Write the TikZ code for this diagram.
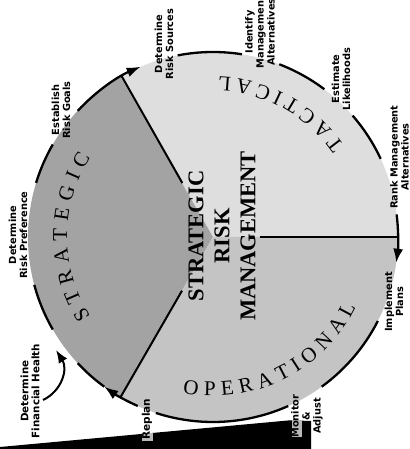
\documentclass[tikz,border=0pt]{standalone}
\usepackage{fontspec}
\setmainfont{Liberation Serif}
\newfontfamily\labelfont{DejaVu Sans}
\usetikzlibrary{decorations.text,arrows.meta}
\definecolor{tact}{gray}{0.87}
\definecolor{strat}{gray}{0.64}
\definecolor{oper}{gray}{0.77}
\newcommand\arcfont{\fontsize{21}{21}\selectfont}
\begin{document}
\begin{tikzpicture}[x=1pt,y=1pt,
  lbl/.style={font=\labelfont\bfseries\fontsize{9.8}{11}\selectfont, rotate=90, align=center, inner sep=0pt},
  rim/.style={line width=2.3pt},
  sepline/.style={line width=2pt},
  tipped/.style={-{Latex[length=14pt,width=10pt]}},
  arctext/.style={decorate, decoration={text along path, text align=fit to path, text={|\arcfont|#1}}}
]
\useasboundingbox (0,0) rectangle (409,449);
\coordinate (C) at (213,212);
% sectors
\fill[tact] (C) -- ([shift={(C)}]0:185) arc[start angle=0,end angle=120,radius=185] -- cycle;
\fill[strat] (C) -- ([shift={(C)}]120:185) arc[start angle=120,end angle=240,radius=185] -- cycle;
\fill[oper] (C) -- ([shift={(C)}]240:185) arc[start angle=240,end angle=360,radius=185] -- cycle;
% black scan band
\fill[black] (0,0) -- (0,2) -- (290,28.7) -- (311,28) -- (311,0) -- cycle;
\fill[gray!55] (291.5,12) rectangle (302,28.5);
\fill[gray!55] (141.5,8) rectangle (152.5,16);
% separators
\draw[sepline] ([shift={(C)}]119.6:185) -- ([shift={(C)}]119.6:62);
\draw[sepline] ([shift={(C)}]240:185) -- ([shift={(C)}]240:62);
\draw[sepline] ([shift={(C)}]0:47) -- ([shift={(C)}]0:185);
% rim arcs
\draw[rim] ([shift={(C)}]163:185) arc[start angle=163,end angle=150,radius=185];
\draw[rim,tipped] ([shift={(C)}]137:185) arc[start angle=137,end angle=113,radius=185];
\draw[rim] ([shift={(C)}]101:185) arc[start angle=101,end angle=81,radius=185];
\draw[rim] ([shift={(C)}]69:185) arc[start angle=69,end angle=53,radius=185];
\draw[rim] ([shift={(C)}]41:185) arc[start angle=41,end angle=25,radius=185];
\draw[rim,tipped] ([shift={(C)}]7:185) arc[start angle=7,end angle=-8,radius=185];
\draw[rim] ([shift={(C)}]-27:185) arc[start angle=-27,end angle=-54,radius=185];
\draw[rim] ([shift={(C)}]-66:185) arc[start angle=-66,end angle=-108,radius=185];
\draw[rim,tipped] ([shift={(C)}]-114:185) arc[start angle=-114,end angle=-126,radius=185];
\draw[rim] ([shift={(C)}]-126:185) arc[start angle=-126,end angle=-137,radius=185];
\draw[rim] ([shift={(C)}]-150:185) arc[start angle=-150,end angle=-165,radius=185];
% centre title
\node[rotate=90, align=center, inner sep=0pt, font=\bfseries\fontsize{22.5}{26}\selectfont] (srm) at (222,213) {STRATEGIC\\RISK\\MANAGEMENT};
% arc texts
\path[arctext={STRATEGIC}] ([shift={(C)}]213:146) arc[start angle=213,end angle=147,radius=146];
\path[arctext={TACTICAL}] ([shift={(C)}]35:160) arc[start angle=35,end angle=88,radius=160];
\path[arctext={OPERATIONAL}] ([shift={(C)}]259:159) arc[start angle=259,end angle=334,radius=159];
% labels
\node[lbl] (srcs) at (164,405) {Determine\\Risk Sources};
\node[lbl] (idalt) at (260,417) {Identify\\Management\\Alternatives};
\node[lbl] (estl) at (341,370) {Estimate\\Likelihoods};
\node[lbl] (rank) at (399.5,292) {Rank Management\\Alternatives};
\node[lbl] (impl) at (394,147) {Implement\\Plans};
\node[lbl] (mon) at (307,33) {Monitor\\\&\\Adjust};
\node[lbl, font=\labelfont\bfseries\fontsize{10.5}{11}\selectfont] (repl) at (147,30) {Replan};
\node[lbl, font=\labelfont\bfseries\fontsize{10.3}{11}\selectfont] (fin) at (30,58) {Determine\\Financial Health};
\node[lbl] (pref) at (18,214) {Determine\\Risk Preference};
\node[lbl] (goal) at (61,339) {Establish\\Risk Goals};
% curved arrow from Financial Health label
\coordinate (finA) at (43,49);
\coordinate (finB) at (56,99);
\draw[line width=2pt, -{Latex[length=13pt,width=10pt]}] (finA) .. controls (62,58) and (68,80) .. (finB);
\end{tikzpicture}
\end{document}
